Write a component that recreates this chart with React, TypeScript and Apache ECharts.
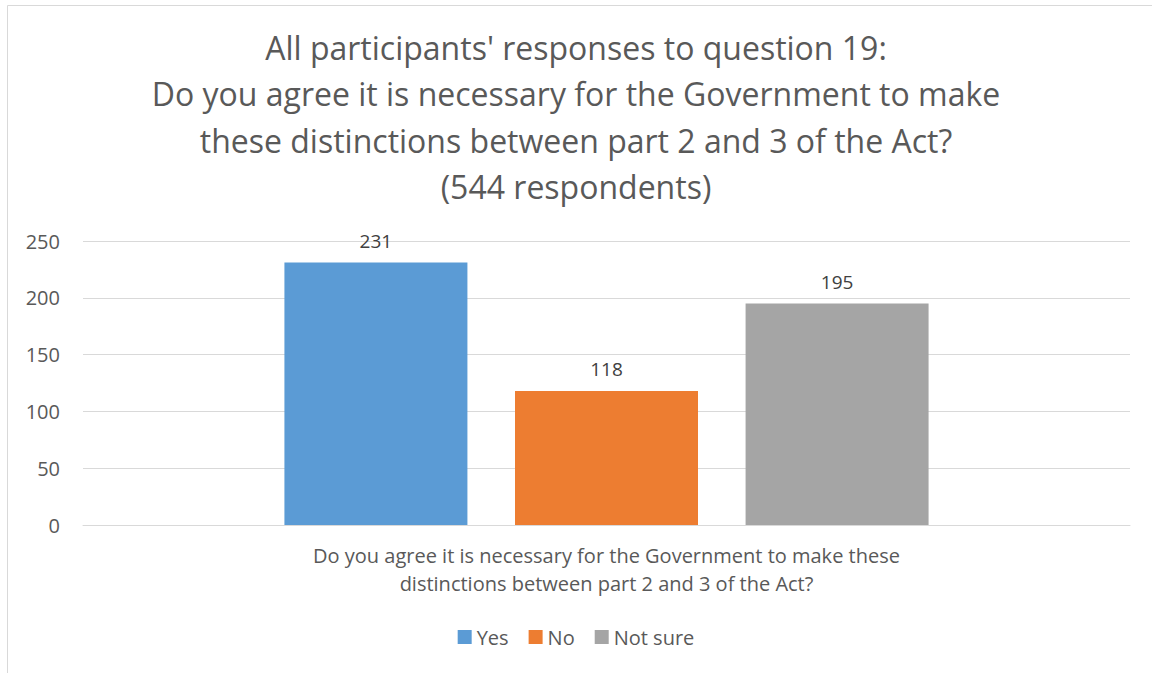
import React, { useEffect, useRef } from "react";
import * as echarts from "echarts";

const titleLines = [
  "All participants' responses to question 19:",
  "Do you agree it is necessary for the Government to make",
  "these distinctions between part 2 and 3 of the Act?",
  "(544 respondents)",
];
const categories = [
  "Do you agree it is necessary for the Government to make these\ndistinctions between part 2 and 3 of the Act?",
];
const seriesNames = ["Yes", "No", "Not sure"];
const yesValues = [231];
const noValues = [118];
const notSureValues = [195];
const colors = ["#5B9BD5", "#ED7D31", "#A5A5A5"];
const yTicks = { min: 0, max: 250, interval: 50 };

const FONT = "'Open Sans', sans-serif";
const TEXT = "#595959";

export default function App() {
  const ref = useRef<HTMLDivElement>(null);
  useEffect(() => {
    if (!ref.current) return;
    const chart = echarts.init(ref.current, null, { renderer: "svg" });
    const data = [yesValues, noValues, notSureValues];
    chart.setOption({
      animation: false,
      backgroundColor: "#fff",
      textStyle: { fontFamily: FONT },
      title: {
        text: titleLines.join("\n"),
        left: "center",
        top: 19,
        textStyle: {
          fontFamily: FONT,
          fontSize: 32,
          fontWeight: "normal",
          color: TEXT,
          lineHeight: 46.5,
        },
      },
      graphic: [
        {
          type: "rect",
          shape: { x: 7.5, y: 5.5, width: 1160, height: 700 },
          style: { fill: "none", stroke: "#d9d9d9", lineWidth: 1 },
          silent: true,
        },
      ],
      legend: {
        bottom: 21,
        left: "center",
        itemWidth: 14,
        itemHeight: 14,
        itemGap: 20,
        icon: "rect",
        textStyle: { fontFamily: FONT, fontSize: 20, color: TEXT },
        data: seriesNames,
      },
      grid: { left: 83, right: 22, top: 241, bottom: 148 },
      xAxis: {
        type: "category",
        data: categories,
        axisLine: { lineStyle: { color: "#d9d9d9" } },
        axisTick: { show: false },
        axisLabel: {
          fontFamily: FONT,
          fontSize: 20,
          color: TEXT,
          lineHeight: 28,
          margin: 16,
        },
      },
      yAxis: {
        type: "value",
        min: yTicks.min,
        max: yTicks.max,
        interval: yTicks.interval,
        axisLine: { show: false },
        axisTick: { show: false },
        splitLine: { lineStyle: { color: "#d9d9d9", width: 1 } },
        axisLabel: { fontFamily: FONT, fontSize: 20, color: TEXT, margin: 23 },
      },
      series: seriesNames.map((name, i) => ({
        name,
        type: "bar",
        data: data[i],
        barWidth: 183,
        barGap: "26%",
        itemStyle: { color: colors[i] },
        label: {
          show: true,
          position: "top",
          distance: 12,
          fontFamily: FONT,
          fontSize: 19,
          color: "#404040",
        },
      })),
    });
    return () => chart.dispose();
  }, []);
  return (
    <div
      ref={ref}
      style={{ position: "fixed", left: 0, top: 0, width: 1152, height: 673 }}
    />
  );
}
